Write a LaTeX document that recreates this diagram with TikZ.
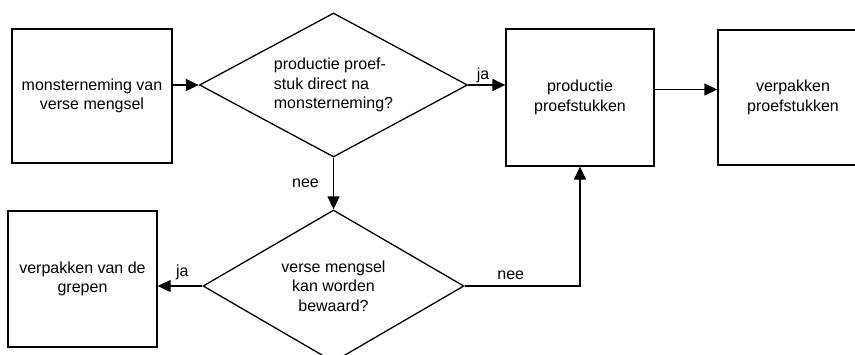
\documentclass[tikz,border=0pt]{standalone}
\usepackage{fontspec}
\setmainfont{Liberation Sans}
\usetikzlibrary{positioning,calc,shapes.geometric,arrows.meta}

\begin{document}
\begin{tikzpicture}[x=1pt,y=1pt,auto]
    \tikzstyle{every node}=[inner sep=0,font=\fontsize{16}{19.5}\selectfont,align=center]
    \tikzstyle{box}=[draw,rectangle,line width=1.3]
    \tikzstyle{keuze}=[draw,diamond,aspect=1.8,line width=1.3]
    \tikzstyle{note}=[draw=none,fill=none]
    \tikzstyle{flow}=[-{Triangle[length=13pt,width=12pt]},line width=1.3]
    {
        \useasboundingbox (0,0) rectangle (855,-354);

        % bovenste rij
        \node[box,minimum width=160,minimum height=134] (mon) at (92,-96) {monsterneming van\\verse mengsel};
        \node[keuze,minimum width=268,minimum height=144,align=left] (q1) at (333.5,-85) {productie proef-\\stuk direct na\\monsterneming?};
        \node[box,minimum width=148,minimum height=137] (prod) at (580,-97.5) {productie\\proefstukken};
        \node[box,minimum width=150,minimum height=135] (pak) at (793,-97.5) {verpakken\\proefstukken};

        % onderste rij
        \node[keuze,minimum width=261,minimum height=152] (q2) at (333.5,-286) {verse mengsel\\kan worden\\bewaard?};
        \node[box,minimum width=149,minimum height=136] (grep) at (82.5,-279) {verpakken van de\\grepen};

        \draw[flow] (q1.west -| mon.east) -- (q1.west);
        \draw[flow] (q1.east) -- node[note,above=2,pos=0.4] {ja} (q1.east -| prod.west);
        \draw[flow] ([yshift=8]prod.east) -- ([yshift=8]pak.west);
        \draw[flow] (q1.south) -- node[note,left=14] {nee} (q2.north);
        \draw[flow] (q2.west) -- node[note,above=6,pos=0.45] {ja} (q2.west -| grep.east);
        \draw[flow] (q2.east) -| node[note,above=6,pos=0.2] {nee} (prod.south);
    }
\end{tikzpicture}
\end{document}
